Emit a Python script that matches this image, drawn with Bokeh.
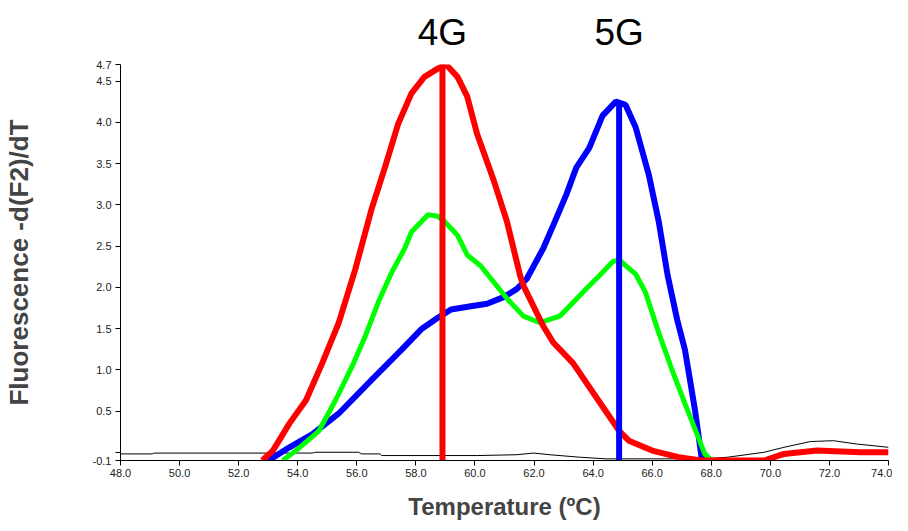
from bokeh.plotting import figure
from bokeh.models import Range1d, FixedTicker, PrintfTickFormatter
from bokeh.layouts import column
from bokeh.core.properties import value
from bokeh.embed import file_html
from bokeh.resources import INLINE

# ---- data ----
red_t = [52.8, 53.16, 53.72, 54.28, 54.83, 55.39, 55.95, 56.51, 56.95, 57.40, 57.85, 58.29, 58.74, 59.02,
         59.41, 59.74, 60.07, 60.64, 61.08, 61.53, 61.64, 62.31, 62.65, 63.32, 64.10, 64.88, 65.21, 66.00,
         66.89, 67.67, 69.79, 70.46, 71.58, 73.03, 74.0]
red_v = [-0.1, 0.02, 0.35, 0.63, 1.08, 1.57, 2.22, 2.96, 3.45, 3.98, 4.35, 4.55, 4.65, 4.70,
         4.55, 4.31, 3.86, 3.29, 2.80, 2.14, 2.02, 1.53, 1.33, 1.08, 0.67, 0.26, 0.14, 0.02,
         -0.06, -0.10, -0.10, -0.02, 0.02, 0.0, 0.0]

blue_t = [52.99, 53.10, 53.72, 54.50, 55.39, 56.51, 57.51, 58.18, 58.74, 59.19, 59.86, 60.41, 60.97, 61.42,
          61.75, 62.31, 62.65, 63.09, 63.43, 63.87, 64.32, 64.77, 65.10, 65.44, 65.88, 66.22, 66.52, 66.85,
          67.11, 67.45, 67.67, 67.78]
blue_v = [-0.1, -0.08, 0.06, 0.22, 0.47, 0.88, 1.24, 1.49, 1.63, 1.73, 1.77, 1.80, 1.88, 1.98,
          2.10, 2.47, 2.75, 3.12, 3.45, 3.69, 4.08, 4.25, 4.21, 3.94, 3.37, 2.80, 2.15, 1.60,
          1.24, 0.51, -0.06, -0.1]

green_t = [53.49, 53.94, 54.72, 55.28, 55.84, 56.29, 56.73, 57.18, 57.62, 57.85, 58.41, 58.74, 58.96, 59.41,
           59.74, 60.19, 60.64, 61.09, 61.64, 62.20, 62.87, 63.20, 63.76, 64.21, 64.66, 64.88, 65.44, 65.77,
           66.22, 66.67, 67.11, 67.56, 67.78, 68.01]
green_v = [-0.1, 0.02, 0.26, 0.63, 1.04, 1.41, 1.82, 2.18, 2.47, 2.67, 2.88, 2.86, 2.80, 2.63,
           2.39, 2.26, 2.06, 1.86, 1.65, 1.57, 1.65, 1.77, 1.98, 2.14, 2.31, 2.33, 2.16, 1.94,
           1.45, 1.00, 0.59, 0.18, -0.02, -0.1]

black_t = [48.0, 49.08, 49.14, 54.5, 54.61, 56.06, 56.16, 56.79, 56.84, 60.08, 61.42, 61.98, 62.53, 63.54,
           64.43, 66.78, 67.78, 68.56, 69.79, 70.46, 71.36, 72.14, 72.92, 74.0]
black_v = [-0.02, -0.02, -0.01, -0.01, 0.0, 0.0, -0.02, -0.02, -0.04, -0.04, -0.03, -0.01, -0.03, -0.06,
           -0.08, -0.08, -0.08, -0.06, 0.0, 0.06, 0.13, 0.14, 0.10, 0.06]

peak_t = [58.9, 64.88]
peak_v = [4.70, 4.25]
peak_names = ["4G", "5G"]
peak_colors = ["#FF0000", "#0000FF"]

x_ticks = [48.0, 50.0, 52.0, 54.0, 56.0, 58.0, 60.0, 62.0, 64.0, 66.0, 68.0, 70.0, 72.0, 74.0]
y_ticks = [-0.1, 0.0, 0.5, 1.0, 1.5, 2.0, 2.5, 3.0, 3.5, 4.0, 4.5, 4.7]

FONT = "Liberation Sans"
xr = Range1d(48.0, 74.0)
LEFT, RIGHT = 111, 4

# ---- top strip with peak names ----
top = figure(width=892, height=55, output_backend="svg", toolbar_location=None,
             x_range=xr, y_range=Range1d(0, 1), x_axis_location=None, y_axis_location=None,
             min_border_left=LEFT, min_border_right=RIGHT, min_border_top=0, min_border_bottom=0)
top.outline_line_color = None
top.grid.visible = False
top.text(x=peak_t, y=0.42, text=peak_names, text_align="center",
         text_baseline="middle", text_font=value(FONT), text_font_size="37px", text_color="black")

# ---- main chart ----
p = figure(width=892, height=467, output_backend="svg", toolbar_location=None,
           x_range=xr, y_range=Range1d(-0.1, 4.7),
           min_border_left=LEFT, min_border_right=RIGHT, min_border_top=9, min_border_bottom=62)
p.outline_line_color = None
p.grid.visible = False

p.line(black_t, black_v, line_color="black", line_width=1)
p.line(blue_t, blue_v, line_color="#0000FF", line_width=6)
p.line(green_t, green_v, line_color="#00FF00", line_width=5)
p.line(red_t, red_v, line_color="#FF0000", line_width=6)
p.segment(x0=peak_t, y0=-0.1, x1=peak_t, y1=peak_v, line_color=peak_colors, line_width=6)

xa = p.xaxis[0]
xa.ticker = FixedTicker(ticks=x_ticks)
xa.formatter = PrintfTickFormatter(format="%.1f")
xa.minor_tick_line_color = None
xa.major_tick_in = 0
xa.major_tick_out = 5
xa.major_label_standoff = 3
xa.major_label_text_font = FONT
xa.major_label_text_font_size = "11px"
xa.major_label_text_color = "#222222"
xa.axis_label = "Temperature (ºC)"
xa.axis_label_text_font = FONT
xa.axis_label_text_font_style = "bold"
xa.axis_label_text_font_size = "24px"
xa.axis_label_standoff = 13
xa.axis_line_color = "black"

ya = p.yaxis[0]
ya.ticker = FixedTicker(ticks=y_ticks)
ya.formatter = PrintfTickFormatter(format="%.1f")
ya.major_label_overrides = {0: ""}
ya.minor_tick_line_color = None
ya.major_tick_in = 0
ya.major_tick_out = 5
ya.major_label_standoff = 4
ya.major_label_text_font = FONT
ya.major_label_text_font_size = "11px"
ya.major_label_text_color = "#222222"
ya.axis_label = "Fluorescence -d(F2)/dT"
ya.axis_label_text_font = FONT
ya.axis_label_text_font_style = "bold"
ya.axis_label_text_font_size = "26px"
ya.axis_label_standoff = 56
ya.axis_line_color = "black"

layout = column(top, p, spacing=0)
open("out.html", "w").write(file_html(layout, INLINE))
